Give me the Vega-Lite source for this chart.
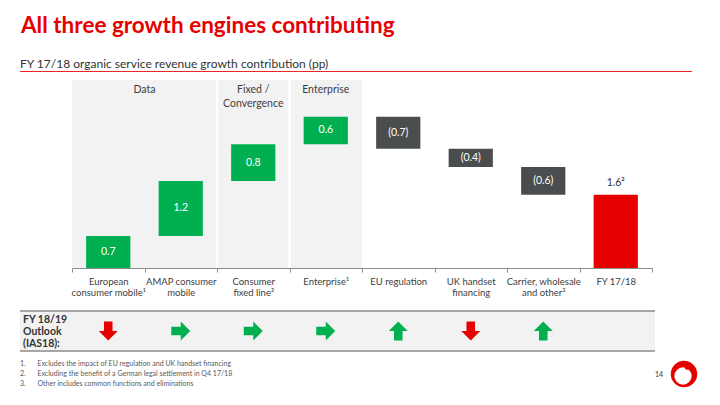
{
  "$schema": "https://vega.github.io/schema/vega-lite/v6.json",
  "width": 720,
  "height": 405,
  "autosize": "none",
  "padding": 0,
  "background": "white",
  "config": {"view": {"stroke": null}, "font": "Lato", "text": {"font": "Lato"}},
  "datasets": {
    "bars": [
      {"cat": "European|consumer mobile¹", "start": 0, "end": 0.7, "label": "0.7", "kind": "growth", "outlook": "down"},
      {"cat": "AMAP consumer|mobile", "start": 0.7, "end": 1.9, "label": "1.2", "kind": "growth", "outlook": "right"},
      {"cat": "Consumer|fixed line²", "start": 1.9, "end": 2.7, "label": "0.8", "kind": "growth", "outlook": "right"},
      {"cat": "Enterprise¹", "start": 2.7, "end": 3.3, "label": "0.6", "kind": "growth", "outlook": "right"},
      {"cat": "EU regulation", "start": 3.3, "end": 2.6, "label": "(0.7)", "kind": "drag", "outlook": "up"},
      {"cat": "UK handset|financing", "start": 2.6, "end": 2.2, "label": "(0.4)", "kind": "drag", "outlook": "down"},
      {"cat": "Carrier, wholesale|and other³", "start": 2.2, "end": 1.6, "label": "(0.6)", "kind": "drag", "outlook": "up"},
      {"cat": "FY 17/18", "start": 0, "end": 1.6, "label": "1.6²", "kind": "total", "outlook": "none"}
    ],
    "panels": [
      {"cat": "European|consumer mobile¹"},
      {"cat": "AMAP consumer|mobile"},
      {"cat": "Consumer|fixed line²"},
      {"cat": "Enterprise¹"}
    ],
    "seps": [
      {"cat": "Consumer|fixed line²"},
      {"cat": "Enterprise¹"}
    ]
  },
  "layer": [
    {
      "data": {"values": [{"t": "All three growth engines contributing"}]},
      "mark": {"type": "text", "align": "left", "baseline": "alphabetic", "fontSize": 22.5, "fontWeight": "bold", "color": "#e60000"},
      "encoding": {"x": {"value": 21}, "y": {"value": 33}, "text": {"field": "t"}}
    },
    {
      "data": {"values": [{"t": "FY 17/18 organic service revenue growth contribution (pp)"}]},
      "mark": {"type": "text", "align": "left", "baseline": "alphabetic", "fontSize": 12, "color": "#333333"},
      "encoding": {"x": {"value": 20}, "y": {"value": 68}, "text": {"field": "t"}}
    },
    {
      "data": {"values": [{}]},
      "mark": {"type": "rule", "stroke": "#e60000", "strokeWidth": 1, "strokeOpacity": 0.85},
      "encoding": {"x": {"value": 20}, "x2": {"value": 692}, "y": {"value": 71.5}}
    },
    {
      "data": {"name": "panels"},
      "mark": {"type": "rect", "color": "#f2f2f2"},
      "encoding": {
        "x": {"field": "cat", "type": "nominal", "sort": null, "scale": {"domain": ["European|consumer mobile¹", "AMAP consumer|mobile", "Consumer|fixed line²", "Enterprise¹", "EU regulation", "UK handset|financing", "Carrier, wholesale|and other³", "FY 17/18"], "range": [72, 652], "paddingInner": 0, "paddingOuter": 0}, "axis": {"title": null, "orient": "bottom", "offset": -137, "domainColor": "#8c8c8c", "tickColor": "#8c8c8c", "tickSize": 4, "tickBand": "extent", "labelExpr": "split(datum.label, '|')", "labelFont": "Lato", "labelFontSize": 9.5, "labelColor": "#404040", "labelAngle": 0, "labelPadding": 4, "labelLineHeight": 11.5, "labelOverlap": false, "labelBaseline": "top"}},
        "y": {"datum": 4.1, "type": "quantitative", "scale": {"domain": [0, 4.1], "range": [268, 80], "nice": false, "zero": true}, "axis": null},
        "y2": {"datum": 0}
      }
    },
    {
      "data": {"name": "seps"},
      "mark": {"type": "rule", "color": "white", "strokeWidth": 2.5},
      "encoding": {
        "x": {"field": "cat", "type": "nominal", "bandPosition": 0},
        "y": {"datum": 4.1, "type": "quantitative"},
        "y2": {"datum": 0}
      }
    },
    {
      "data": {"values": [{"cat": "AMAP consumer|mobile", "head": ["Data"]}]},
      "mark": {"type": "text", "baseline": "middle", "fontSize": 10.5, "color": "#404040", "lineHeight": 13.5},
      "encoding": {
        "x": {"field": "cat", "type": "nominal", "bandPosition": 0},
        "y": {"value": 90},
        "text": {"field": "head"}
      }
    },
    {
      "data": {"values": [{"cat": "Consumer|fixed line²", "head": ["Fixed /", "Convergence"]}, {"cat": "Enterprise¹", "head": ["Enterprise"]}]},
      "mark": {"type": "text", "baseline": "middle", "fontSize": 10.5, "color": "#404040", "lineHeight": 13.5},
      "encoding": {
        "x": {"field": "cat", "type": "nominal"},
        "y": {"value": 90},
        "text": {"field": "head"}
      }
    },
    {
      "data": {"name": "bars"},
      "mark": {"type": "bar", "width": {"band": 0.61}},
      "encoding": {
        "x": {"field": "cat", "type": "nominal"},
        "y": {"field": "start", "type": "quantitative"},
        "y2": {"field": "end"},
        "color": {"field": "kind", "type": "nominal", "scale": {"domain": ["growth", "drag", "total"], "range": ["#00b050", "#4a4d4e", "#e60000"]}, "legend": null}
      }
    },
    {
      "data": {"name": "bars"},
      "transform": [{"filter": "datum.kind != 'total'"}, {"calculate": "(datum.start + datum.end) / 2", "as": "mid"}],
      "mark": {"type": "text", "color": "white", "fontSize": 10.5, "baseline": "middle"},
      "encoding": {
        "x": {"field": "cat", "type": "nominal"},
        "y": {"field": "mid", "type": "quantitative"},
        "text": {"field": "label"}
      }
    },
    {
      "data": {"name": "bars"},
      "transform": [{"filter": "datum.kind == 'total'"}],
      "mark": {"type": "text", "color": "#333333", "fontSize": 10.5, "baseline": "middle", "dy": -12},
      "encoding": {
        "x": {"field": "cat", "type": "nominal"},
        "y": {"field": "end", "type": "quantitative"},
        "text": {"field": "label"}
      }
    },
    {
      "data": {"values": [{}]},
      "mark": {"type": "rect", "color": "#f2f2f2"},
      "encoding": {"x": {"value": 20}, "x2": {"value": 655}, "y": {"value": 311}, "y2": {"value": 351}}
    },
    {
      "data": {"values": [{}]},
      "mark": {"type": "rule", "color": "#a6a6a6", "strokeWidth": 2},
      "encoding": {"x": {"value": 20}, "x2": {"value": 655}, "y": {"value": 311}}
    },
    {
      "data": {"values": [{}]},
      "mark": {"type": "rule", "color": "#a6a6a6", "strokeWidth": 2},
      "encoding": {"x": {"value": 20}, "x2": {"value": 655}, "y": {"value": 351}}
    },
    {
      "data": {"values": [{"t": ["FY 18/19", "Outlook", "(IAS18):"]}]},
      "mark": {"type": "text", "align": "left", "baseline": "middle", "fontSize": 10.5, "fontWeight": "bold", "color": "#333333", "lineHeight": 12},
      "encoding": {"x": {"value": 23}, "y": {"value": 320}, "text": {"field": "t"}}
    },
    {
      "data": {"name": "bars"},
      "transform": [{"filter": "datum.outlook == 'down'"}],
      "mark": {"type": "point", "filled": true, "opacity": 1, "strokeWidth": 0, "color": "#e60000", "shape": "M-0.45,-1L0.45,-1L0.45,0L1,0L0,1L-1,0L-0.45,0Z", "size": 360},
      "encoding": {
        "x": {"field": "cat", "type": "nominal"},
        "y": {"value": 331}
      }
    },
    {
      "data": {"name": "bars"},
      "transform": [{"filter": "datum.outlook == 'right'"}],
      "mark": {"type": "point", "filled": true, "opacity": 1, "strokeWidth": 0, "color": "#00b050", "shape": "M-1,-0.45L0,-0.45L0,-1L1,0L0,1L0,0.45L-1,0.45Z", "size": 360},
      "encoding": {
        "x": {"field": "cat", "type": "nominal"},
        "y": {"value": 331}
      }
    },
    {
      "data": {"name": "bars"},
      "transform": [{"filter": "datum.outlook == 'up'"}],
      "mark": {"type": "point", "filled": true, "opacity": 1, "strokeWidth": 0, "color": "#00b050", "shape": "M-0.45,1L0.45,1L0.45,0L1,0L0,-1L-1,0L-0.45,0Z", "size": 360},
      "encoding": {
        "x": {"field": "cat", "type": "nominal"},
        "y": {"value": 331}
      }
    },
    {
      "data": {"values": [{"t": ["1.", "2.", "3."]}]},
      "mark": {"type": "text", "align": "left", "baseline": "middle", "fontSize": 7, "color": "#595959", "lineHeight": 10},
      "encoding": {"x": {"value": 20}, "y": {"value": 364}, "text": {"field": "t"}}
    },
    {
      "data": {"values": [{"t": ["Excludes the impact of EU regulation and UK handset financing", "Excluding the benefit of a German legal settlement in Q4 17/18", "Other includes common functions and eliminations"]}]},
      "mark": {"type": "text", "align": "left", "baseline": "middle", "fontSize": 7, "color": "#595959", "lineHeight": 10},
      "encoding": {"x": {"value": 37.5}, "y": {"value": 364}, "text": {"field": "t"}}
    },
    {
      "data": {"values": [{"t": "14"}]},
      "mark": {"type": "text", "align": "center", "baseline": "middle", "fontSize": 7, "color": "#333333"},
      "encoding": {"x": {"value": 659}, "y": {"value": 375}, "text": {"field": "t"}}
    },
    {
      "data": {"values": [{}]},
      "mark": {"type": "point", "shape": "circle", "filled": true, "color": "#e60000", "opacity": 1, "size": 700},
      "encoding": {"x": {"value": 684}, "y": {"value": 374}}
    },
    {
      "data": {"values": [{}]},
      "mark": {"type": "point", "shape": "circle", "filled": true, "color": "white", "opacity": 1, "size": 300},
      "encoding": {"x": {"value": 683}, "y": {"value": 376}}
    },
    {
      "data": {"values": [{}]},
      "mark": {"type": "point", "shape": "M-1,0.2C-1,-0.6,-0.3,-1,0.6,-1C0.2,-0.6,0.9,-0.2,1,0.4C1,1,-1,1,-1,0.2Z", "filled": true, "color": "#e60000", "opacity": 1, "size": 45},
      "encoding": {"x": {"value": 688}, "y": {"value": 367}}
    }
  ]
}
